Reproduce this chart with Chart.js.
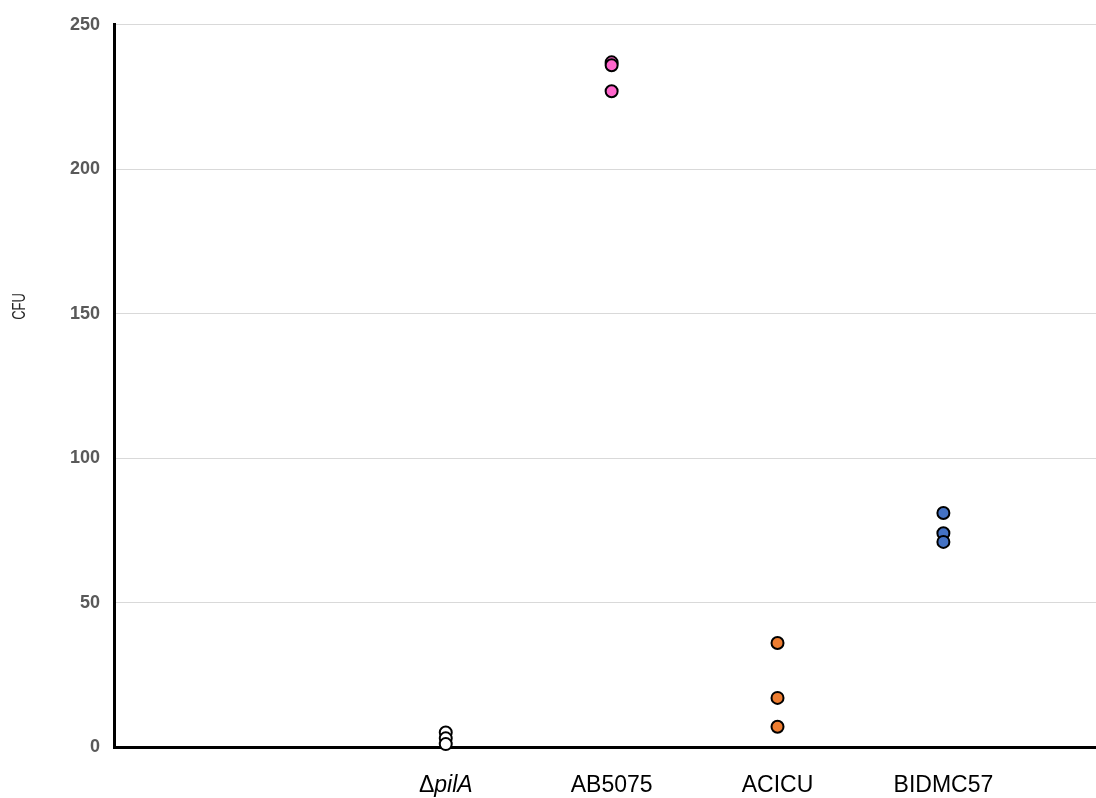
<!DOCTYPE html>
<html>
<head>
<meta charset="utf-8">
<script src="https://cdn.jsdelivr.net/npm/chart.js@4"></script>
<style>
  html, body { margin: 0; padding: 0; background: #fff; overflow: hidden; }
</style>
</head>
<body>
<canvas id="cfuChart" width="1096" height="798"></canvas>
<script>
// strains on the x axis, first one gets an italic gene name
var strains = ["ΔpilA", "AB5075", "ACICU", "BIDMC57"];
var strainX = [2, 3, 4, 5];

// CFU counts, three replicates each
var pilA = [5, 3, 1];
var ab5075 = [237, 236, 227];
var acicu = [36, 17, 7];
var bidmc57 = [81, 74, 71];

var yTitle = "CFU";

function points(vals, i) {
    return vals.map(function (v) { return { x: strainX[i], y: v }; });
}

function dotSet(vals, i, fill) {
    return {
        data: points(vals, i),
        showLine: false,
        clip: false,
        pointRadius: 6,
        pointHoverRadius: 6,
        pointBorderWidth: 2,
        pointBorderColor: "#000000",
        pointBackgroundColor: fill
    };
}

var labelPlugin = {
    id: "strainLabels",
    afterDraw: function (chart) {
        var ctx = chart.ctx;
        var xs = chart.scales.x;
        var area = chart.chartArea;
        var normal = "23px 'Liberation Sans', Arial, sans-serif";
        var italic = "italic 23px 'Liberation Sans', Arial, sans-serif";
        var y = area.bottom + 39;
        ctx.save();
        ctx.fillStyle = "#000000";
        ctx.textBaseline = "middle";
        strains.forEach(function (name, i) {
            var px = xs.getPixelForValue(strainX[i]);
            if (name.charAt(0) === "Δ") {
                var rest = name.slice(1);
                ctx.font = normal;
                var dw = ctx.measureText("Δ").width;
                ctx.font = italic;
                var rw = ctx.measureText(rest).width;
                var start = px - (dw + rw) / 2;
                ctx.textAlign = "left";
                ctx.font = normal;
                ctx.fillText("Δ", start, y);
                ctx.font = italic;
                ctx.fillText(rest, start + dw, y);
            } else {
                ctx.textAlign = "center";
                ctx.font = normal;
                ctx.fillText(name, px, y);
            }
        });
        // y title sits a bit above the middle of the axis, narrow lettering
        ctx.translate(20, area.top + (area.bottom - area.top) * 0.39);
        ctx.rotate(-Math.PI / 2);
        ctx.scale(0.72, 1);
        ctx.textAlign = "center";
        ctx.font = "18px 'Liberation Sans', Arial, sans-serif";
        ctx.fillStyle = "#262626";
        ctx.fillText(yTitle, 0, 0);
        ctx.restore();
    }
};

new Chart("cfuChart", {
    type: "scatter",
    data: {
        datasets: [
            dotSet(pilA, 0, "#ffffff"),
            dotSet(ab5075, 1, "#ff66cc"),
            dotSet(acicu, 2, "#ed7d31"),
            dotSet(bidmc57, 3, "#4472c4")
        ]
    },
    options: {
        responsive: false,
        animation: false,
        layout: { autoPadding: false, padding: { top: 23, right: 0, left: 0, bottom: 0 } },
        plugins: {
            legend: { display: false },
            tooltip: { enabled: false }
        },
        scales: {
            x: {
                type: "linear",
                min: 0,
                max: 5.92,
                ticks: { display: false },
                grid: { display: false, drawTicks: false },
                border: { color: "#000000", width: 3 },
                afterFit: function (scale) { scale.height = 51; }
            },
            y: {
                min: 0,
                max: 250,
                ticks: {
                    stepSize: 50,
                    padding: 14,
                    color: "#595959",
                    font: { family: "'Liberation Sans', Arial, sans-serif", size: 18, weight: "bold" }
                },
                grid: {
                    drawTicks: false,
                    color: function (c) { return c.tick && c.tick.value === 0 ? "rgba(0,0,0,0)" : "#d9d9d9"; }
                },
                border: { color: "#000000", width: 3 },
                afterFit: function (scale) { scale.width = 114; }
            }
        }
    },
    plugins: [labelPlugin]
});
</script>
</body>
</html>
